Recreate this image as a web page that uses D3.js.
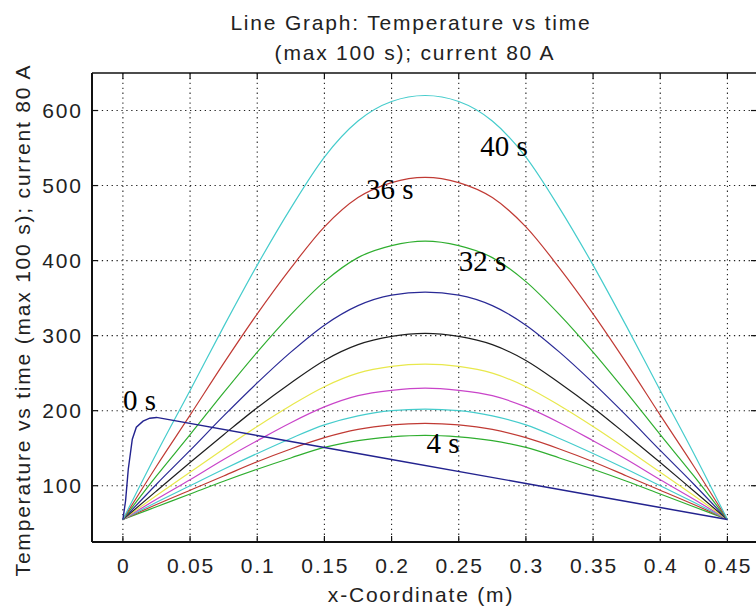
<!DOCTYPE html>
<html>
<head>
<meta charset="utf-8">
<script src="https://cdn.jsdelivr.net/npm/d3@7/dist/d3.min.js"></script>
<style>
  html, body { margin: 0; padding: 0; background: #fff; }
  svg { display: block; }
  .sans { font-family: "Liberation Sans", Arial, sans-serif; }
  .serif { font-family: "Liberation Serif", "Times New Roman", serif; }
</style>
</head>
<body>
<svg id="chart" width="756" height="612"></svg>
<script>
// Positions along the bar (m)
const xCoords = [0, 0.025, 0.05, 0.075, 0.1, 0.125, 0.15, 0.175, 0.2, 0.225,
                 0.25, 0.275, 0.3, 0.325, 0.35, 0.375, 0.4, 0.425, 0.45];

// Initial profile (t = 0 s): steep rise near x = 0, then a straight decline
const initX = [0, 0.002, 0.004, 0.007, 0.01, 0.015, 0.02, 0.025, 0.1, 0.2, 0.3, 0.4, 0.45];
const initT = [55, 80, 122, 162, 178, 186, 190, 191, 167, 135, 103, 71, 55];

// Temperature profiles at later times, sampled at xCoords
const times = [4, 8, 12, 16, 20, 24, 28, 32, 36, 40];
const temps = [
  [55, 72, 89, 106, 122, 137, 151, 160, 165, 167, 165, 160, 151, 137, 122, 106, 89, 72, 55],
  [55, 75, 94, 113, 132, 149, 164, 175, 181, 183, 181, 175, 164, 149, 132, 113, 94, 75, 55],
  [55, 78, 100, 122, 143, 163, 181, 193, 200, 202, 200, 193, 181, 163, 143, 122, 100, 78, 55],
  [55, 82, 108, 135, 160, 184, 205, 220, 227, 230, 227, 220, 205, 184, 160, 135, 108, 82, 55],
  [55, 87, 118, 149, 179, 207, 232, 250, 259, 262, 259, 250, 232, 207, 179, 149, 118, 87, 55],
  [55, 93, 131, 168, 204, 237, 267, 288, 299, 303, 299, 288, 267, 237, 204, 168, 131, 93, 55],
  [55, 102, 147, 193, 237, 278, 314, 340, 354, 358, 354, 340, 314, 278, 237, 193, 147, 102, 55],
  [55, 113, 168, 224, 278, 328, 372, 404, 420, 426, 420, 404, 372, 328, 278, 224, 168, 113, 55],
  [55, 126, 194, 263, 329, 390, 445, 484, 504, 511, 504, 484, 445, 390, 329, 263, 194, 126, 55],
  [55, 143, 227, 312, 394, 470, 538, 586, 612, 620, 612, 586, 538, 470, 394, 312, 227, 143, 55]
];

// Line colours cycle through b, g, r, c, m, y, k
const initColor = "#23238f";
const lineColors = ["#2fae2f", "#c03a34", "#45cccc", "#c944c9", "#e8e84c",
                    "#1e1e1e", "#2a2a96", "#2fae2f", "#c03a34", "#45cccc"];

// Time annotations placed in data coordinates
const labelText = ["0 s", "4 s", "32 s", "36 s", "40 s"];
const labelX = [0, 0.226, 0.25, 0.181, 0.266];
const labelY = [201, 144, 386, 482, 539];

const xTicks = [0, 0.05, 0.1, 0.15, 0.2, 0.25, 0.3, 0.35, 0.4, 0.45];
const xTickLabels = ["0", "0.05", "0.1", "0.15", "0.2", "0.25", "0.3", "0.35", "0.4", "0.45"];
const yTicks = [100, 200, 300, 400, 500, 600];

const titleLines = ["Line Graph: Temperature vs time", "(max 100 s); current 80 A"];
const xLabel = "x-Coordinate (m)";
const yLabel = "Temperature vs time (max 100 s); current 80 A";

const svg = d3.select("#chart");
const L = 92, R = 761, T = 73, B = 542;

const x = d3.scaleLinear().domain([-0.023, 0.475]).range([L, R]);
const y = d3.scaleLinear().domain([25, 650]).range([B, T]);

// Grid
const grid = svg.append("g").attr("stroke", "#222").attr("stroke-width", 1.1)
  .attr("stroke-dasharray", "1.3,3.6");
grid.selectAll(".gx").data(xTicks).join("line")
  .attr("x1", d => x(d)).attr("x2", d => x(d)).attr("y1", T).attr("y2", B);
grid.selectAll(".gy").data(yTicks).join("line")
  .attr("y1", d => y(d)).attr("y2", d => y(d)).attr("x1", L).attr("x2", R);

// Curves
const line = d3.line().x(d => x(d[0])).y(d => y(d[1])).curve(d3.curveMonotoneX);
const plot = svg.append("g").attr("fill", "none").attr("stroke-width", 1.2);
temps.forEach((row, i) => {
  plot.append("path")
    .datum(xCoords.map((xv, j) => [xv, row[j]]))
    .attr("stroke", lineColors[i])
    .attr("d", line);
});
plot.append("path")
  .datum(initX.map((xv, j) => [xv, initT[j]]))
  .attr("stroke", initColor)
  .attr("stroke-width", 1.4)
  .attr("d", d3.line().x(d => x(d[0])).y(d => y(d[1])));

// Axes box with inward ticks
const axes = svg.append("g").attr("stroke", "#111");
axes.append("line").attr("x1", L).attr("x2", R).attr("y1", B).attr("y2", B).attr("stroke-width", 2.2);
axes.append("line").attr("x1", L).attr("x2", L).attr("y1", T).attr("y2", B).attr("stroke-width", 2);
axes.append("line").attr("x1", L).attr("x2", R).attr("y1", T).attr("y2", T).attr("stroke-width", 1.5);
axes.append("line").attr("x1", R - 4).attr("x2", R - 4).attr("y1", T).attr("y2", B).attr("stroke-width", 1.2);
const tl = 6;
xTicks.forEach(d => {
  axes.append("line").attr("x1", x(d)).attr("x2", x(d)).attr("y1", B).attr("y2", B - tl).attr("stroke-width", 1.2);
  axes.append("line").attr("x1", x(d)).attr("x2", x(d)).attr("y1", T).attr("y2", T + tl).attr("stroke-width", 1.2);
});
yTicks.forEach(d => {
  axes.append("line").attr("x1", L).attr("x2", L + tl).attr("y1", y(d)).attr("y2", y(d)).attr("stroke-width", 1.2);
  axes.append("line").attr("x1", R - 4).attr("x2", R - 4 - tl).attr("y1", y(d)).attr("y2", y(d)).attr("stroke-width", 1.2);
});

// Tick labels
const ls = 1.8;
svg.append("g").attr("class", "sans").attr("font-size", 21).attr("fill", "#222")
  .attr("letter-spacing", ls)
  .selectAll("text").data(xTicks).join("text")
  .attr("x", d => x(d) + ls / 2).attr("y", 573)
  .attr("text-anchor", "middle")
  .text((d, i) => xTickLabels[i]);
svg.append("g").attr("class", "sans").attr("font-size", 21).attr("fill", "#222")
  .attr("letter-spacing", ls)
  .selectAll("text").data(yTicks).join("text")
  .attr("x", 81 + ls).attr("y", d => y(d) + 7.5)
  .attr("text-anchor", "end")
  .text(d => d);

// Titles and axis labels
const tg = svg.append("g").attr("class", "sans").attr("font-size", 21).attr("fill", "#222")
  .attr("letter-spacing", ls).attr("text-anchor", "middle");
tg.append("text").attr("x", 411).attr("y", 30).text(titleLines[0]);
tg.append("text").attr("x", 415).attr("y", 60).text(titleLines[1]);
tg.append("text").attr("x", 421).attr("y", 602).text(xLabel);
tg.append("text").attr("transform", "translate(30,320) rotate(-90)").text(yLabel);

// Time annotations
svg.append("g").attr("class", "serif").attr("font-size", 29).attr("fill", "#000")
  .selectAll("text").data(labelText).join("text")
  .attr("x", (d, i) => x(labelX[i])).attr("y", (d, i) => y(labelY[i]))
  .text(d => d);
</script>
</body>
</html>
